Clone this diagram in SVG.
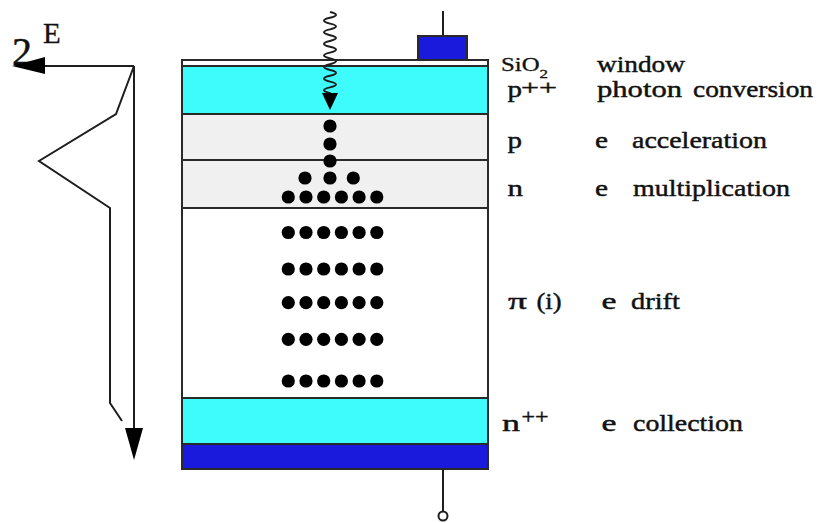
<svg xmlns="http://www.w3.org/2000/svg" width="817" height="523" viewBox="0 0 817 523">
  <style>
    .ln { fill: none; stroke: #1e1e1e; stroke-width: 2; stroke-linejoin: miter; }
    .layer { stroke: #2a2a2a; stroke-width: 2; }
    .cyan { fill: #3ffcfc; }
    .grey { fill: #f0f0f0; }
    .white { fill: #ffffff; }
    .blue { fill: #1a1adc; }
    .dot { fill: #000000; }
    .t { font-family: "Liberation Serif", "Times New Roman", serif; font-size: 24px; fill: #111111; stroke: #111111; stroke-width: 0.45; }
  </style>
  <defs>
    <circle id="e" r="6.6" class="dot"/>
    <g id="row6">
      <use href="#e" x="288.3"/>
      <use href="#e" x="306"/>
      <use href="#e" x="323.7"/>
      <use href="#e" x="341.4"/>
      <use href="#e" x="359.1"/>
      <use href="#e" x="376.8"/>
    </g>
  </defs>

  <!-- electric field profile -->
  <g id="field">
    <text class="t" x="12" y="65" style="font-size:40px;stroke-width:0.5">2</text>
    <text class="t" x="43" y="43" style="font-size:29px;stroke-width:0.3">E</text>
    <line class="ln" x1="44" y1="66" x2="134" y2="66"/>
    <polygon points="12,66 45,57 45,74" fill="#000"/>
    <line class="ln" x1="134" y1="66" x2="134" y2="430"/>
    <polygon points="125,428 143,428 134,460" fill="#000"/>
    <polyline class="ln" points="134,66 116,114 39,161 110,208 110,403 122,421"/>
  </g>

  <!-- device stack -->
  <g id="device">
    <rect id="sio2" class="layer white" x="182" y="60" width="306" height="6"/>
    <rect id="p-plus" class="layer cyan" x="182" y="66" width="306" height="48"/>
    <rect id="p-layer" class="layer grey" x="182" y="114" width="306" height="46"/>
    <rect id="n-layer" class="layer grey" x="182" y="160" width="306" height="48"/>
    <rect id="pi-layer" class="layer white" x="182" y="208" width="306" height="190"/>
    <rect id="n-plus" class="layer cyan" x="182" y="398" width="306" height="46"/>
    <rect id="back-contact" class="layer blue" x="182" y="444" width="306" height="25"/>
  </g>

  <!-- top and bottom contacts -->
  <g id="contacts">
    <line class="ln" x1="443" y1="11" x2="443" y2="36"/>
    <rect class="layer blue" x="418" y="36" width="49" height="24"/>
    <line class="ln" x1="443" y1="469" x2="443" y2="511"/>
    <circle cx="443" cy="516" r="4.5" fill="#fff" stroke="#1e1e1e" stroke-width="2"/>
  </g>

  <!-- incoming photon -->
  <g id="photon">
    <path class="ln" d="M330,12 q12,2.9 0,5.8 q-12,2.9 0,5.8 q12,2.9 0,5.8 q-12,2.9 0,5.8 q12,2.9 0,5.8 q-12,2.9 0,5.8 q12,2.9 0,5.8 q-12,2.9 0,5.8 q12,2.9 0,5.8 q-12,2.9 0,5.8 q12,2.9 0,5.8 q-12,2.9 0,5.8 q12,2.9 0,5.8 q-12,2.9 0,5.8 L330,96"/>
    <polygon points="322,93 338,93 330,110" fill="#000"/>
  </g>

  <!-- electrons -->
  <g id="electrons">
    <use href="#e" x="330" y="126"/>
    <use href="#e" x="330" y="144"/>
    <use href="#e" x="330" y="161"/>
    <use href="#e" x="305" y="178"/>
    <use href="#e" x="330" y="178"/>
    <use href="#e" x="353.3" y="178"/>
    <use href="#row6" y="197"/>
    <use href="#row6" y="232.5"/>
    <use href="#row6" y="269"/>
    <use href="#row6" y="302.7"/>
    <use href="#row6" y="339.3"/>
    <use href="#row6" y="381"/>
  </g>

  <!-- layer labels -->
  <g id="labels">
    <text class="t" x="501" y="71" style="font-size:19px;stroke-width:0.3" textLength="47" lengthAdjust="spacingAndGlyphs">SiO<tspan dy="7" style="font-size:13px">2</tspan></text>
    <text class="t" x="597" y="72" textLength="88" lengthAdjust="spacingAndGlyphs">window</text>

    <text class="t" x="507.5" y="97" textLength="14.5" lengthAdjust="spacingAndGlyphs">p</text>
    <text class="t" x="521" y="95" style="font-size:22px" textLength="36" lengthAdjust="spacingAndGlyphs">++</text>
    <text class="t" x="597" y="97" textLength="85" lengthAdjust="spacingAndGlyphs">photon</text>
    <text class="t" x="693" y="97" textLength="120" lengthAdjust="spacingAndGlyphs">conversion</text>

    <text class="t" x="507.5" y="148" textLength="14.5" lengthAdjust="spacingAndGlyphs">p</text>
    <text class="t" x="595" y="148" textLength="13" lengthAdjust="spacingAndGlyphs">e</text>
    <text class="t" x="632" y="148" textLength="135" lengthAdjust="spacingAndGlyphs">acceleration</text>

    <text class="t" x="507.5" y="196" textLength="15.5" lengthAdjust="spacingAndGlyphs">n</text>
    <text class="t" x="595" y="196" textLength="13" lengthAdjust="spacingAndGlyphs">e</text>
    <text class="t" x="633" y="196" textLength="157" lengthAdjust="spacingAndGlyphs">multiplication</text>

    <text class="t" x="508" y="309" textLength="19" lengthAdjust="spacingAndGlyphs">π</text>
    <text class="t" x="536.5" y="309" textLength="25" lengthAdjust="spacingAndGlyphs">(i)</text>
    <text class="t" x="601.5" y="309" textLength="15" lengthAdjust="spacingAndGlyphs">e</text>
    <text class="t" x="631" y="309" textLength="49" lengthAdjust="spacingAndGlyphs">drift</text>

    <text class="t" x="502" y="431" textLength="18" lengthAdjust="spacingAndGlyphs">n</text>
    <text class="t" x="521.5" y="424" style="font-size:22px" textLength="27" lengthAdjust="spacingAndGlyphs">++</text>
    <text class="t" x="601.5" y="431" textLength="15" lengthAdjust="spacingAndGlyphs">e</text>
    <text class="t" x="633" y="431" textLength="110" lengthAdjust="spacingAndGlyphs">collection</text>
  </g>
</svg>
